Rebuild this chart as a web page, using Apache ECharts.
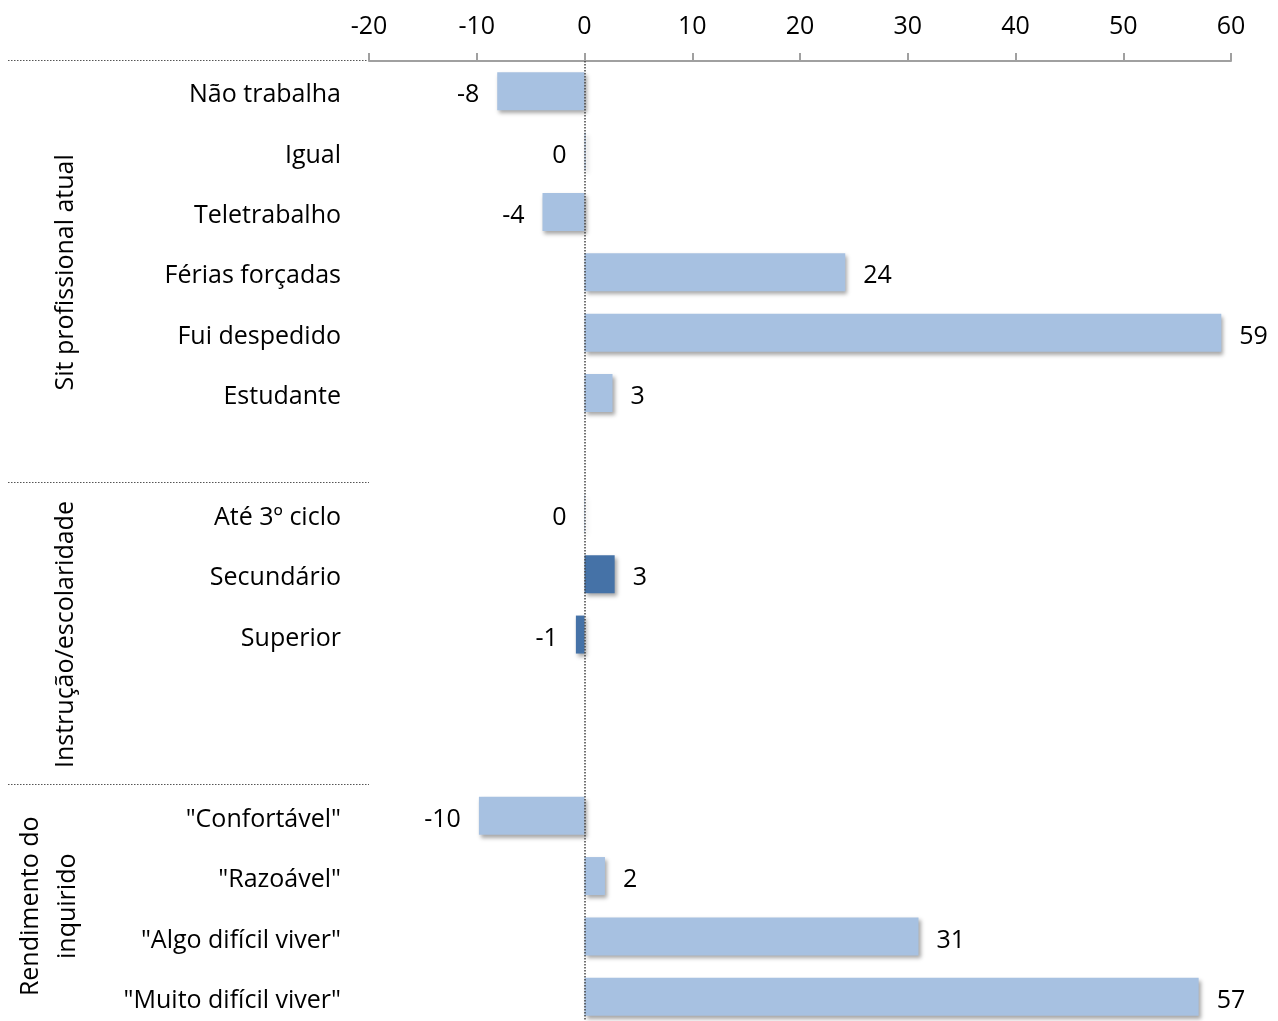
<!DOCTYPE html>
<html><head><meta charset="utf-8">
<script src="https://cdn.jsdelivr.net/npm/echarts@6/dist/echarts.min.js"></script>
<style>html,body{margin:0;padding:0;background:#fff;overflow:hidden}#c{width:1278px;height:1034px}</style>
</head><body><div id="c"></div>
<script>
const categories = ['Não trabalha','Igual','Teletrabalho','Férias forçadas','Fui despedido','Estudante','',
  'Até 3º ciclo','Secundário','Superior','','',
  '"Confortável"','"Razoável"','"Algo difícil viver"','"Muito difícil viver"'];
const values = [-8.1, 0.1, -3.9, 24.2, 59.1, 2.6, null, 0.05, 2.8, -0.8, null, null, -9.8, 1.9, 31.0, 57.0];
const darkRows = ['Secundário','Superior'];
const groups = [
  {name: 'Sit profissional atual', from: 0, to: 6},
  {name: 'Instrução/escolaridade', from: 7, to: 11},
  {name: 'Rendimento do\ninquirido', from: 12, to: 15}
];
const xTicks = {min: -20, max: 60, interval: 10};

const FONT = '"Open Sans"';
const FS = 25;
const richT = {t: {fontFamily: FONT, fontSize: FS, color: '#000', padding: [8, 0, 0, 0]}};
const chart = echarts.init(document.getElementById('c'));
const data = values.map((v, i) => {
  if (v === null) return null;
  return {
    value: v,
    itemStyle: {color: darkRows.includes(categories[i]) ? '#4572A7' : '#A7C1E1'},
    label: {position: v <= 0.1 ? 'left' : 'right'}
  };
});
chart.setOption({
  animation: false,
  grid: {left: 369, width: 862, top: 61, height: 966, containLabel: false},
  xAxis: {
    type: 'value', position: 'top', min: xTicks.min, max: xTicks.max, interval: xTicks.interval,
    axisLine: {show: true, onZero: false, lineStyle: {color: '#A0A0A0', width: 2}},
    axisTick: {show: true, length: 8, lineStyle: {color: '#A0A0A0', width: 2}},
    axisLabel: {fontFamily: FONT, fontSize: FS, color: '#000', margin: 22},
    splitLine: {show: false}
  },
  yAxis: {
    type: 'category', inverse: true, data: categories,
    axisLine: {show: false}, axisTick: {show: false},
    axisLabel: {fontFamily: FONT, fontSize: FS, color: '#000', margin: 28,
      formatter: v => v ? '{t|' + v + '}' : '', rich: richT}
  },
  series: [{
    type: 'bar', data: data, barWidth: 38,
    itemStyle: {shadowColor: 'rgba(0,0,0,0.35)', shadowBlur: 4, shadowOffsetX: 2, shadowOffsetY: 3},
    label: {show: true, fontFamily: FONT, fontSize: FS, color: '#000', distance: 18,
      formatter: p => '{t|' + Math.round(p.value) + '}', rich: richT},
    markLine: {silent: true, symbol: 'none', label: {show: false},
      lineStyle: {type: 'dotted', color: '#444', width: 1.5},
      data: [{xAxis: 0}]}
  }]
});

function drawGroups() {
  const c0 = chart.convertToPixel({yAxisIndex: 0}, 0);
  const c1 = chart.convertToPixel({yAxisIndex: 0}, 1);
  const band = c1 - c0;
  const xLeft = chart.convertToPixel({xAxisIndex: 0}, xTicks.min);
  const elems = [];
  groups.forEach(g => {
    const top = chart.convertToPixel({yAxisIndex: 0}, g.from) - band / 2;
    const bottom = chart.convertToPixel({yAxisIndex: 0}, g.to) + band / 2;
    const yLine = Math.round(top - 1.5) + 0.5;
    elems.push({type: 'line', shape: {x1: 8, y1: yLine, x2: xLeft, y2: yLine},
      style: {stroke: '#555', lineWidth: 1, lineDash: [1.5, 1.5]}});
    const twoLine = g.name.indexOf('\n') >= 0;
    elems.push({type: 'text', x: twoLine ? 49 : 66, y: (top + bottom) / 2, rotation: Math.PI / 2,
      style: {text: g.name, font: FS + 'px ' + FONT, fill: '#000', align: 'center', verticalAlign: 'middle', lineHeight: 37}});
  });
  chart.setOption({graphic: elems});
}
drawGroups();
</script></body></html>
